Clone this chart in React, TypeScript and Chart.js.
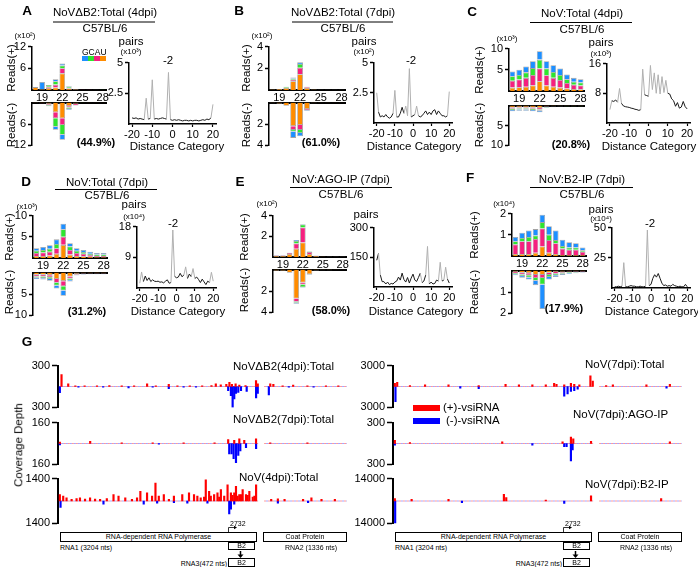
import React, { useEffect, useRef } from 'react';
import { Chart, registerables } from 'chart.js';
Chart.register(...registerables);

const FONT = '"Liberation Sans", Arial, Helvetica, sans-serif';
Chart.defaults.font.family = FONT;
Chart.defaults.color = '#000';

// ---------- DATA ----------
const CATS = ['18', '19', '20', '21', '22', '23', '24', '25', '26', '27', '28'];
const SHOWN = ['19', '22', '25', '28'];
const DIST = [-20, -19, -18, -17, -16, -15, -14, -13, -12, -11, -10, -9, -8, -7, -6, -5, -4, -3, -2, -1, 0, 1, 2, 3, 4, 5, 6, 7, 8, 9, 10, 11, 12, 13, 14, 15, 16, 17, 18, 19, 20];
const DIST_TICKS = [-20, -10, 0, 10, 20];

// Panel A (x10^2)
const aPlusU = [0.8, 0.2, 0.6, 0.7, 4.6, 0.4, 0.2, 0.03, 0.03, 0.02, 0.02];
const aPlusA = [0, 0, 0.3, 0.8, 1.4, 0.2, 0.1, 0.02, 0.02, 0.02, 0.01];
const aPlusC = [0, 0, 0.5, 0.9, 0.8, 0.4, 0, 0.02, 0.02, 0.01, 0.01];
const aPlusG = [0, 2.0, 0, 0.6, 0.5, 0.1, 0, 0.03, 0.03, 0.02, 0.02];
const aMinusU = [0.1, 0.2, 0.4, 2.7, 4.4, 1.0, 0.3, 0.05, 0.03, 0.02, 0.02];
const aMinusA = [0, 0.05, 0.2, 1.7, 1.9, 0.4, 0.5, 0.02, 0.02, 0.01, 0.01];
const aMinusC = [0, 0, 0.3, 2.4, 2.7, 0.4, 0, 0.02, 0.01, 0.01, 0.01];
const aMinusG = [0, 0, 0.1, 0.8, 1.4, 0.2, 0, 0.02, 0.01, 0.01, 0.01];
const lineA = [0.5, 0.45, 0.5, 0.4, 0.45, 0.4, 0.35, 2.1, 0.4, 0.45, 3.6, 0.4, 0.45, 0.4, 0.45, 0.5, 0.45, 0.4, 4.2, 0.35, 0.3, 0.35, 0.3, 0.35, 0.3, 0.25, 0.3, 0.3, 0.25, 0.3, 0.25, 0.3, 0.3, 0.25, 0.3, 0.35, 0.3, 0.4, 0.35, 0.5, 1.6];

// Panel B (x10^2)
const bPlusU = [0.05, 0.1, 0.2, 0.8, 1.45, 0.2, 0.05, 0.02, 0.02, 0.02, 0.02];
const bPlusA = [0, 0, 0, 0.15, 0.6, 0.1, 0, 0, 0, 0, 0];
const bPlusC = [0, 0, 0.1, 0.1, 0.35, 0, 0, 0, 0, 0, 0];
const bPlusG = [0, 0, 0, 0.1, 0.15, 0, 0, 0.01, 0.01, 0.01, 0.01];
const bMinusU = [0.05, 0.1, 0.3, 2.2, 2.1, 0.6, 0.05, 0.02, 0.02, 0.01, 0.01];
const bMinusA = [0, 0, 0, 0.35, 0.45, 0.1, 0, 0, 0, 0, 0];
const bMinusC = [0, 0, 0, 0.15, 0.3, 0, 0, 0, 0, 0, 0];
const bMinusG = [0, 0, 0, 0.6, 0.3, 0.05, 0, 0.01, 0.01, 0.01, 0.01];
const lineB = [2.5, 0.9, 0.5, 0.6, 0.5, 0.7, 0.5, 0.4, 0.5, 0.8, 2.7, 0.5, 0.5, 0.8, 1.3, 0.8, 1.4, 0.6, 4.5, 0.5, 0.6, 0.7, 1.4, 0.6, 0.5, 0.6, 0.8, 1.0, 0.7, 0.9, 0.7, 1.0, 1.1, 0.7, 1.0, 0.8, 0.6, 0.6, 0.5, 0.6, 2.6];

// Panel C (x10^3)
const cPlusU = [0.8, 0.9, 1.0, 1.3, 2.3, 1.3, 1.0, 0.8, 0.6, 0.5, 0.4];
const cPlusA = [1.6, 1.8, 2.1, 2.5, 3.0, 2.4, 2.1, 1.8, 1.3, 1.0, 0.9];
const cPlusC = [1.1, 1.1, 1.3, 1.6, 2.1, 1.6, 1.4, 1.2, 0.9, 0.7, 0.7];
const cPlusG = [1.1, 1.2, 1.4, 1.6, 2.0, 1.7, 1.6, 1.5, 1.1, 0.9, 0.8];
const cMinusU = [0.5, 0.45, 0.45, 0.5, 0.6, 0.2, 0.15, 0.1, 0.07, 0.07, 0.07];
const cMinusA = [0.3, 0.3, 0.3, 0.3, 0.35, 0.15, 0.1, 0.07, 0.05, 0.05, 0.05];
const cMinusC = [0.3, 0.25, 0.25, 0.3, 0.35, 0.1, 0.07, 0.06, 0.04, 0.04, 0.04];
const cMinusG = [0.3, 0.3, 0.3, 0.3, 0.4, 0.15, 0.08, 0.07, 0.04, 0.04, 0.04];
const lineC = [3.6, 6.0, 5.8, 6.2, 5.6, 9.3, 5.3, 4.6, 4.4, 4.3, 4.2, 4.0, 3.9, 3.7, 3.6, 3.4, 3.6, 14.5, 7.6, 7.4, 7.2, 15.5, 9.0, 13.5, 8.0, 13.0, 7.8, 12.5, 8.2, 11.5, 8.0, 7.8, 6.5, 6.0, 4.5, 5.5, 4.0, 4.3, 5.8, 4.4, 3.8];

// Panel D (x10^3)
const dPlusU = [0.5, 0.5, 0.6, 1.0, 3.1, 0.8, 0.5, 0.4, 0.3, 0.2, 0.2];
const dPlusA = [0.7, 0.8, 0.9, 1.3, 1.9, 1.1, 0.7, 0.6, 0.4, 0.3, 0.3];
const dPlusC = [0.5, 0.6, 0.7, 1.0, 1.8, 0.8, 0.5, 0.4, 0.3, 0.3, 0.3];
const dPlusG = [0.6, 0.7, 0.8, 1.1, 1.3, 0.8, 0.6, 0.5, 0.5, 0.4, 0.4];
const dMinusU = [0.5, 0.5, 0.6, 1.5, 2.0, 0.9, 0.3, 0.2, 0.15, 0.15, 0.15];
const dMinusA = [0.4, 0.4, 0.5, 0.9, 1.2, 0.5, 0.2, 0.1, 0.1, 0.1, 0.1];
const dMinusC = [0.3, 0.4, 0.4, 0.6, 1.0, 0.4, 0.1, 0.1, 0.1, 0.1, 0.1];
const dMinusG = [0.3, 0.3, 0.4, 0.7, 1.2, 0.3, 0.1, 0.1, 0.05, 0.05, 0.05];
const lineD = [1.4, 4.7, 1.9, 3.5, 2.2, 3.0, 1.9, 2.4, 2.0, 1.9, 2.0, 1.7, 1.8, 1.5, 2.0, 2.4, 1.4, 1.6, 17.0, 3.4, 3.0, 3.2, 4.3, 3.3, 3.8, 6.2, 2.8, 4.1, 3.3, 5.7, 2.8, 3.2, 2.5, 1.6, 2.6, 1.8, 1.0, 2.0, 1.6, 4.6, 2.0];

// Panel E (x10^2)
const ePlusU = [0.1, 0.1, 0.3, 0.8, 1.4, 0.3, 0.1, 0.03, 0.02, 0.02, 0.02];
const ePlusA = [0.05, 0.05, 0.1, 0.5, 1.45, 0.2, 0.03, 0.01, 0.01, 0.01, 0.01];
const ePlusC = [0, 0, 0, 0.25, 0.3, 0.05, 0, 0, 0, 0, 0];
const ePlusG = [0.05, 0.05, 0, 0.1, 0.05, 0, 0.02, 0.01, 0.01, 0.01, 0.01];
const eMinusU = [0.1, 0.1, 0.3, 2.7, 1.2, 0.45, 0.08, 0.03, 0.03, 0.02, 0.02];
const eMinusA = [0, 0, 0, 0.3, 0.2, 0, 0, 0, 0, 0, 0];
const eMinusC = [0, 0, 0, 0.1, 0.25, 0, 0, 0, 0, 0, 0];
const eMinusG = [0, 0, 0, 0.1, 0.05, 0.05, 0.02, 0.02, 0.02, 0.01, 0.01];
const lineE = [135, 170, 60, 27, 27, 15, 25, 12, 18, 15, 25, 30, 50, 35, 70, 38, 25, 48, 20, 45, 65, 35, 28, 48, 70, 22, 30, 60, 205, 15, 25, 15, 18, 35, 30, 125, 30, 35, 100, 40, 20];

// Panel F (x10^4)
const fPlusU = [0.1, 0.1, 0.1, 0.15, 0.45, 0.15, 0.1, 0.05, 0.05, 0.05, 0.05];
const fPlusA = [0.45, 0.6, 0.6, 0.65, 0.85, 0.6, 0.5, 0.3, 0.25, 0.25, 0.15];
const fPlusC = [0.15, 0.15, 0.2, 0.17, 0.3, 0.25, 0.15, 0.12, 0.1, 0.1, 0.07];
const fPlusG = [0.2, 0.25, 0.3, 0.3, 0.35, 0.4, 0.45, 0.3, 0.25, 0.2, 0.13];
const fMinusU = [0.07, 0.1, 0.12, 0.2, 0.2, 0.1, 0.07, 0.05, 0.04, 0.03, 0.03];
const fMinusA = [0.05, 0.08, 0.1, 0.15, 0.15, 0.1, 0.08, 0.05, 0.04, 0.03, 0.03];
const fMinusC = [0.05, 0.07, 0.1, 0.13, 0.3, 0.1, 0.07, 0.05, 0.03, 0.03, 0.02];
const fMinusG = [0.05, 0.08, 0.1, 0.2, 1.15, 0.12, 0.08, 0.05, 0.04, 0.03, 0.02];
const lineF = [1, 1, 1.5, 1, 1.5, 21, 1, 1, 1.5, 2, 1.5, 1.5, 1, 1, 1.5, 1, 1, 1.5, 48, 2, 3, 8, 11, 9, 12, 8, 4, 2, 2.5, 1.5, 2, 1.5, 3, 2, 1.5, 1, 1.5, 1, 1, 3, 1];

// Panel G coverage tracks: [genome position (nt), depth]
const RNA1_LEN = 3204;
const RNA2_START = 3300;
const RNA2_END = 4636;
const l1Plus: [number, number][] = [[27, 170], [135, 40], [250, 10], [400, 8], [600, 10], [800, 12], [1000, 8], [1200, 10], [1410, 40], [1550, 10], [1760, 30], [1900, 8], [2100, 10], [2300, 8], [2450, 15], [2520, 40], [2600, 25], [2690, 30], [2740, 60], [2780, 30], [2840, 40], [2900, 20], [3000, 15], [3170, 85], [3198, 40], [3400, 40], [3450, 30], [3600, 10], [3770, 20], [4000, 8], [4300, 10], [4500, 8]];
const l1Minus: [number, number][] = [[0, 90], [300, 8], [700, 10], [1110, 20], [1500, 8], [1760, 30], [2000, 8], [2200, 10], [2720, 60], [2764, 130], [2792, 300], [2818, 180], [2846, 100], [2883, 85], [2927, 60], [3019, 70], [3171, 165], [3198, 100], [3377, 120], [3700, 8], [4100, 10]];
const l2Plus: [number, number][] = [[0, 10], [490, 17], [1000, 5], [1500, 6], [2000, 5], [2500, 6], [2720, 30], [2818, 25], [2900, 35], [2980, 25], [3170, 35], [3400, 5], [4000, 5]];
const l2Minus: [number, number][] = [[0, 10], [1600, 5], [2737, 80], [2775, 80], [2808, 117], [2846, 146], [2883, 92], [2916, 56], [3008, 32], [3171, 40]];
const l3Plus: [number, number][] = [[0, 406], [54, 305], [108, 203], [190, 100], [270, 150], [325, 203], [407, 120], [488, 203], [569, 120], [650, 100], [759, 150], [867, 406], [948, 305], [1057, 203], [1165, 100], [1247, 200], [1301, 609], [1409, 508], [1490, 305], [1545, 1117], [1599, 305], [1680, 406], [1762, 100], [1843, 305], [1978, 406], [2087, 508], [2168, 406], [2222, 300], [2276, 203], [2331, 250], [2358, 1320], [2412, 609], [2439, 300], [2493, 406], [2547, 508], [2575, 250], [2602, 711], [2656, 305], [2710, 1015], [2764, 508], [2791, 350], [2818, 508], [2846, 914], [2873, 300], [2900, 406], [2927, 400], [2954, 711], [3008, 406], [3035, 350], [3062, 609], [3117, 250], [3144, 300], [3171, 1015], [3415, 100], [3523, 142], [3631, 100], [3930, 100], [4065, 203], [4228, 100], [4444, 100]];
const l3Minus: [number, number][] = [[11, 406], [705, 203], [1355, 203], [1572, 142], [1843, 100], [2060, 142], [2385, 142], [2737, 812], [2764, 508], [2818, 203], [3523, 142], [4011, 100]];
const r1Plus: [number, number][] = [[0, 465], [38, 605], [244, 140], [488, 233], [867, 233], [1355, 140], [1789, 326], [2005, 233], [2222, 233], [2439, 233], [2574, 465], [2612, 326], [2737, 233], [2845, 465], [2899, 326], [2981, 233], [3160, 1535], [3198, 790], [3414, 140], [3523, 233], [4065, 233], [4444, 326]];
const r1Minus: [number, number][] = [[10, 2185], [1057, 233], [1355, 326], [2737, 1395], [2791, 1070], [2845, 700], [2899, 605], [2954, 372], [4390, 233]];
const r2Plus: [number, number][] = [[0, 45], [244, 14], [1735, 23], [2710, 23], [2845, 91], [2883, 68], [3170, 32], [4444, 23]];
const r2Minus: [number, number][] = [[0, 23], [2222, 23], [2737, 45], [2775, 45], [2845, 250], [2872, 91]];
const r3Plus: [number, number][] = [[0, 1484], [271, 1060], [867, 1060], [1762, 4240], [1800, 2120], [2439, 636], [3170, 3180], [4303, 1484]];
const r3Minus: [number, number][] = [[5, 13780], [1084, 1060], [2737, 1484]];

// ---------- STYLE ----------
const COL = { U: '#ff8c00', A: '#f5207f', C: '#2ee52e', G: '#1e8fff' };
const TS = 11.5; // text size

type Box = { left: number; top: number; width: number; height: number };
type Spec = { box: Box; config: any };

function boxFor(l: number, t: number, r: number, b: number, pl: number, pt: number, pr: number, pb: number): Box {
  return { left: l - pl, top: t - pt, width: r - l + pl + pr, height: b - t + pt + pb };
}

const fmt = (v: number) => String(Math.round(v * 100) / 100);

function yAxis(max: number, width: number, reverse = false) {
  return {
    min: 0,
    max,
    reverse,
    stacked: true,
    afterBuildTicks: (s: any) => { s.ticks = [{ value: max / 2 }, { value: max }]; },
    afterFit: (s: any) => { s.width = width; },
    ticks: { font: { size: 11 }, padding: 2, callback: (v: number) => fmt(v) },
    grid: { drawOnChartArea: false, drawTicks: true, tickLength: 4, tickWidth: 1.5, tickColor: '#000' },
    border: { display: true, color: '#000', width: 1.5 },
  };
}

function barSpec(plot: number[], stacks: number[][], max: number, lower: boolean): Spec {
  const [l, t, r, b] = plot;
  const YW = 24, XH = lower ? 0 : 13, PT = 8, PR = 4, PB = 8;
  const box = boxFor(l, t, r, b, YW, PT, PR, lower ? PB : XH);
  const colors = [COL.U, COL.A, COL.C, COL.G];
  return {
    box,
    config: {
      type: 'bar',
      data: {
        labels: CATS,
        datasets: stacks.map((d, i) => ({
          data: d,
          backgroundColor: colors[i],
          borderColor: '#a3a3a3',
          borderWidth: 0.8,
          barPercentage: 0.84,
          categoryPercentage: 1,
          stack: 's',
        })),
      },
      options: {
        responsive: false,
        animation: false,
        events: [],
        layout: { padding: { top: PT, right: PR, bottom: lower ? PB : 0, left: 0 } },
        plugins: { legend: { display: false }, tooltip: { enabled: false } },
        scales: {
          x: {
            type: 'category',
            position: lower ? 'top' : 'bottom',
            stacked: true,
            offset: true,
            afterFit: (s: any) => { s.height = XH; },
            grid: { display: true, drawOnChartArea: false, drawTicks: false },
            border: { display: true, color: '#000', width: 2 },
            ticks: {
              display: !lower,
              autoSkip: false,
              maxRotation: 0,
              padding: 1,
              font: { size: 11 },
              callback: (_v: any, i: number) => (SHOWN.includes(CATS[i]) ? CATS[i] : ''),
            },
          },
          y: yAxis(max, YW, lower),
        },
      },
    },
  };
}

function lineSpec(plot: number[], vals: number[], max: number): Spec {
  const [l, t, r, b] = plot;
  const YW = 24, XH = 14, PT = 8, PR = 8;
  const box = boxFor(l, t, r, b, YW, PT, PR, XH);
  const y = yAxis(max, YW);
  (y as any).stacked = false;
  return {
    box,
    config: {
      type: 'line',
      data: {
        datasets: [{
          data: DIST.map((d, i) => ({ x: d, y: vals[i] })),
          borderColor: '#1a1a1a',
          borderWidth: 1,
          pointRadius: 0,
          tension: 0,
          segment: {
            borderColor: (c: any) => (Math.abs(c.p1.y - c.p0.y) > 7 ? '#b0b0b0' : '#1a1a1a'),
          },
        }],
      },
      options: {
        responsive: false,
        animation: false,
        events: [],
        layout: { padding: { top: PT, right: PR, bottom: 0, left: 0 } },
        plugins: { legend: { display: false }, tooltip: { enabled: false } },
        scales: {
          x: {
            type: 'linear',
            min: -21.5,
            max: 21.5,
            afterBuildTicks: (s: any) => { s.ticks = DIST_TICKS.map((v) => ({ value: v })); },
            afterFit: (s: any) => { s.height = XH; },
            ticks: { font: { size: 11 }, padding: 1, maxRotation: 0 },
            grid: { drawOnChartArea: false, tickLength: 3, tickWidth: 1.2, tickColor: '#000' },
            border: { display: true, color: '#000', width: 1.5 },
          },
          y,
        },
      },
    },
  };
}

const baselinePlugin = {
  id: 'baseline',
  beforeDatasetsDraw(chart: any, _a: any, opts: any) {
    const { ctx, scales } = chart;
    const xs = scales.x, ys = scales.y;
    const y0 = ys.getPixelForValue(0);
    ctx.save();
    ctx.lineWidth = 1;
    ctx.setLineDash([2, 2]);
    for (const [a, b] of opts.segments as number[][]) {
      ctx.strokeStyle = 'rgba(255,70,70,0.55)';
      ctx.lineDashOffset = 0;
      ctx.beginPath();
      ctx.moveTo(xs.getPixelForValue(a), y0);
      ctx.lineTo(xs.getPixelForValue(b), y0);
      ctx.stroke();
      ctx.strokeStyle = 'rgba(90,90,255,0.55)';
      ctx.lineDashOffset = 2;
      ctx.beginPath();
      ctx.moveTo(xs.getPixelForValue(a), y0);
      ctx.lineTo(xs.getPixelForValue(b), y0);
      ctx.stroke();
    }
    ctx.restore();
  },
};

function trackSpec(plot: number[], plus: [number, number][], minus: [number, number][], max: number): Spec {
  const [l, t, r, b] = plot;
  const YW = 40, PT = 8, PR = 2, PB = 8;
  const box = boxFor(l, t, r, b, YW, PT, PR, PB);
  return {
    box,
    config: {
      type: 'bar',
      data: {
        datasets: [
          { data: plus.map(([x, v]) => ({ x, y: v })), backgroundColor: '#ff0000', barThickness: 1.5, grouped: false },
          { data: minus.map(([x, v]) => ({ x, y: -v })), backgroundColor: '#0000ff', barThickness: 1.5, grouped: false },
        ],
      },
      plugins: [baselinePlugin],
      options: {
        responsive: false,
        animation: false,
        events: [],
        layout: { padding: { top: PT, right: PR, bottom: PB, left: 0 } },
        plugins: {
          legend: { display: false },
          tooltip: { enabled: false },
          baseline: { segments: [[0, RNA1_LEN], [RNA2_START, RNA2_END]] },
        },
        scales: {
          x: { type: 'linear', min: -30, max: 4640, display: false, offset: false },
          y: {
            min: -max,
            max,
            afterBuildTicks: (s: any) => { s.ticks = [{ value: -max }, { value: max }]; },
            afterFit: (s: any) => { s.width = YW; },
            ticks: { font: { size: 11 }, padding: 2, callback: (v: number) => String(Math.abs(v)) },
            grid: { drawOnChartArea: false, drawTicks: true, tickLength: 6, tickWidth: 1.5, tickColor: '#000' },
            border: { display: true, color: '#000', width: 2 },
          },
        },
      },
    },
  };
}

function buildSpecs(): Spec[] {
  return [
    // A
    barSpec([32, 46, 106, 90], [aPlusU, aPlusA, aPlusC, aPlusG], 12, false),
    barSpec([32, 102, 106, 146], [aMinusU, aMinusA, aMinusC, aMinusG], 12, true),
    lineSpec([129, 62, 216, 124], lineA, 5),
    // B
    barSpec([269, 46, 345, 90], [bPlusU, bPlusA, bPlusC, bPlusG], 4, false),
    barSpec([269, 102, 345, 146], [bMinusU, bMinusA, bMinusC, bMinusG], 4, true),
    lineSpec([374, 62, 452, 123], lineB, 5),
    // C
    barSpec([509, 48, 584, 91], [cPlusU, cPlusA, cPlusC, cPlusG], 10, false),
    barSpec([509, 105, 584, 146], [cMinusU, cMinusA, cMinusC, cMinusG], 10, true),
    lineSpec([607, 63, 690, 123], lineC, 16),
    // D
    barSpec([33, 215, 107, 258], [dPlusU, dPlusA, dPlusC, dPlusG], 10, false),
    barSpec([33, 272, 107, 316], [dMinusU, dMinusA, dMinusC, dMinusG], 10, true),
    lineSpec([137, 226, 216, 288], lineD, 18),
    // E
    barSpec([273, 215, 346, 257], [ePlusU, ePlusA, ePlusC, ePlusG], 4, false),
    barSpec([273, 269, 346, 313], [eMinusU, eMinusA, eMinusC, eMinusG], 4, true),
    lineSpec([374, 227, 452, 287], lineE, 300),
    // F
    barSpec([512, 213, 586, 256], [fPlusU, fPlusA, fPlusC, fPlusG], 2, false),
    barSpec([512, 270, 586, 314], [fMinusU, fMinusA, fMinusC, fMinusG], 2, true),
    lineSpec([612, 227, 690, 288], lineF, 50),
    // G tracks
    trackSpec([58, 365, 347, 408], l1Plus, l1Minus, 300),
    trackSpec([58, 422, 347, 465], l2Plus, l2Minus, 160),
    trackSpec([58, 478, 347, 524], l3Plus, l3Minus, 1400),
    trackSpec([393, 365, 682, 408], r1Plus, r1Minus, 3000),
    trackSpec([393, 422, 682, 465], r2Plus, r2Minus, 300),
    trackSpec([393, 478, 682, 524], r3Plus, r3Minus, 14000),
  ];
}

const BOXES = buildSpecs().map((s) => s.box);

// ---------- TEXT ----------
type TP = { x: number; y: number; s?: number; b?: boolean; a?: 'l' | 'c' | 'r'; rot?: boolean; children: any };
function T({ x, y, s = TS, b = false, a = 'c', rot = false, children }: TP) {
  const tx = a === 'l' ? '0' : a === 'r' ? '-100%' : '-50%';
  return (
    <div
      style={{
        position: 'absolute',
        left: x,
        top: y,
        transform: rot ? 'translate(-50%,-50%) rotate(-90deg)' : `translate(${tx},-50%)`,
        fontSize: s,
        fontWeight: b ? 'bold' : 'normal',
        lineHeight: 1,
        whiteSpace: 'nowrap',
      }}
    >
      {children}
    </div>
  );
}

type PanelText = {
  letter: string; lx: number; ly: number;
  title: string; tcx: number; tcy: number; ul: number[]; ccy: number;
  mult: string; mx: number; my: number;
  rpx: number; rpy: number; rmy: number;
  pct: string; px: number; py: number;
  lmult: string | null; pcx: number; pcy: number; lmy: number;
  m2: number[] | null;
  dcx: number; dcy: number;
};

const PANELS: PanelText[] = [
  { letter: 'A', lx: 27, ly: 11, title: 'NoVΔB2:Total (4dpi)', tcx: 105, tcy: 13, ul: [53, 155, 22], ccy: 28.5, mult: '(x10²)', mx: 25, my: 35.5, rpx: 12, rpy: 68, rmy: 125, pct: '(44.9%)', px: 96, py: 142, lmult: '(x10³)', pcx: 131, pcy: 42, lmy: 51.5, m2: [168, 61], dcx: 177, dcy: 147 },
  { letter: 'B', lx: 239, ly: 11, title: 'NoVΔB2:Total (7dpi)', tcx: 343, tcy: 13, ul: [292, 393, 22], ccy: 28.5, mult: '(x10²)', mx: 262, my: 36, rpx: 247, rpy: 68, rmy: 125, pct: '(61.0%)', px: 321, py: 142, lmult: '(x10²)', pcx: 364, pcy: 42, lmy: 51.5, m2: [411, 61], dcx: 414, dcy: 147 },
  { letter: 'C', lx: 472, ly: 12, title: 'NoV:Total (4dpi)', tcx: 582, tcy: 14, ul: [530, 632, 22.5], ccy: 29.5, mult: '(x10³)', mx: 507, my: 38.5, rpx: 480, rpy: 70, rmy: 125, pct: '(20.8%)', px: 571, py: 144, lmult: '(x10³)', pcx: 601, pcy: 43, lmy: 53.5, m2: null, dcx: 649, dcy: 147 },
  { letter: 'D', lx: 26, ly: 182, title: 'NoV:Total (7dpi)', tcx: 107, tcy: 182.5, ul: [55, 157, 189.5], ccy: 196, mult: '(x10³)', mx: 27, my: 207, rpx: 10, rpy: 237, rmy: 292, pct: '(31.2%)', px: 87, py: 311, lmult: '(x10⁴)', pcx: 134, pcy: 205, lmy: 216.5, m2: [173, 224], dcx: 178, dcy: 312 },
  { letter: 'E', lx: 240, ly: 182, title: 'NoV:AGO-IP (7dpi)', tcx: 341, tcy: 180, ul: [290, 392, 187.5], ccy: 195, mult: '(x10²)', mx: 267, my: 203.5, rpx: 245, rpy: 237, rmy: 290, pct: '(58.0%)', px: 331, py: 310, lmult: null, pcx: 366, pcy: 215, lmy: 0, m2: null, dcx: 416, dcy: 312 },
  { letter: 'F', lx: 470, ly: 178, title: 'NoV:B2-IP (7dpi)', tcx: 582, tcy: 180, ul: [530, 633, 187.5], ccy: 195, mult: '(x10⁴)', mx: 504, my: 203.5, rpx: 475, rpy: 235, rmy: 292, pct: '(17.9%)', px: 564, py: 308, lmult: '(x10⁴)', pcx: 601, pcy: 210, lmy: 218.5, m2: [650, 224], dcx: 652, dcy: 312 },
];

const TRACK_LABELS: [string, number, number][] = [
  ['NoVΔB2(4dpi):Total', 233, 367],
  ['NoVΔB2(7dpi):Total', 233, 420],
  ['NoV(4dpi):Total', 239, 478],
  ['NoV(7dpi):Total', 585, 365],
  ['NoV(7dpi):AGO-IP', 573, 415],
  ['NoV(7dpi):B2-IP', 585, 485],
];

function Genome({ dx }: { dx: number }) {
  const box = (l: number, t: number, w: number, h: number, text: string) => (
    <div
      style={{
        position: 'absolute', left: l + dx, top: t, width: w, height: h,
        border: '1px solid #000', boxSizing: 'border-box', fontSize: 7,
        lineHeight: `${h - 2}px`, textAlign: 'center', whiteSpace: 'nowrap', overflow: 'hidden', background: '#fff',
      }}
    >
      {text}
    </div>
  );
  return (
    <>
      {box(60, 532, 197, 10, 'RNA-dependent RNA Polymerase')}
      {box(263, 532, 84, 10, 'Coat Protein')}
      <T x={60 + dx} y={547} s={7} a="l">RNA1 (3204 nts)</T>
      <T x={285 + dx} y={547} s={7} a="l">RNA2 (1336 nts)</T>
      {box(228, 542, 27, 8, 'B2')}
      <T x={230 + dx} y={523} s={7} a="l">2732</T>
      <T x={227 + dx} y={563} s={7} a="r">RNA3(472 nts)</T>
      {box(228, 558, 27, 9, 'B2')}
    </>
  );
}

export default function App() {
  const refs = useRef<(HTMLCanvasElement | null)[]>([]);
  useEffect(() => {
    const specs = buildSpecs();
    const charts = specs.map((s, i) => new Chart(refs.current[i] as HTMLCanvasElement, s.config));
    return () => charts.forEach((c) => c.destroy());
  }, []);

  return (
    <div style={{ position: 'absolute', left: 0, top: 0, width: 698, height: 567, background: '#fff', fontFamily: FONT, color: '#000', overflow: 'hidden' }}>
      {BOXES.map((b, i) => (
        <canvas
          key={i}
          ref={(el) => { refs.current[i] = el; }}
          width={b.width}
          height={b.height}
          style={{ position: 'absolute', left: b.left, top: b.top, width: b.width, height: b.height }}
        />
      ))}

      {PANELS.map((p) => (
        <React.Fragment key={p.letter}>
          <T x={p.lx} y={p.ly} s={13.5} b>{p.letter}</T>
          <T x={p.tcx} y={p.tcy}>{p.title}</T>
          <T x={p.tcx} y={p.ccy}>C57BL/6</T>
          <T x={p.mx} y={p.my} s={8}>{p.mult}</T>
          <T x={p.rpx} y={p.rpy} rot>Reads(+)</T>
          <T x={p.rpx} y={p.rmy} rot>Reads(-)</T>
          <T x={p.px} y={p.py} s={11} b>{p.pct}</T>
          <T x={p.pcx} y={p.pcy}>pairs</T>
          {p.lmult && <T x={p.pcx} y={p.lmy} s={8}>{p.lmult}</T>}
          {p.m2 && <T x={p.m2[0]} y={p.m2[1]}>-2</T>}
          <T x={p.dcx} y={p.dcy}>Distance Category</T>
        </React.Fragment>
      ))}

      {/* GCAU legend */}
      <T x={82} y={51.5} s={8.5} a="l">GCAU</T>

      {/* Panel G */}
      <T x={27} y={342} s={13.5} b>G</T>
      <T x={19} y={445} rot>Coverage Depth</T>
      {TRACK_LABELS.map(([t, x, y]) => (
        <T key={t} x={x} y={y} a="l">{t}</T>
      ))}
      <T x={443} y={408} a="l">(+)-vsiRNA</T>
      <T x={446} y={421} a="l">(-)-vsiRNA</T>
      <Genome dx={0} />
      <Genome dx={335} />

      <svg width={698} height={567} style={{ position: 'absolute', left: 0, top: 0, pointerEvents: 'none' }}>
        {PANELS.map((p) => (
          <line key={p.letter} x1={p.ul[0]} x2={p.ul[1]} y1={p.ul[2]} y2={p.ul[2]} stroke="#000" strokeWidth={1} />
        ))}
        {/* GCAU swatch */}
        <rect x={82} y={56} width={6} height={5} fill={COL.G} />
        <rect x={88} y={56} width={6} height={5} fill={COL.C} />
        <rect x={94} y={56} width={6} height={5} fill={COL.A} />
        <rect x={100} y={56} width={6} height={5} fill={COL.U} />
        {/* vsiRNA legend */}
        <rect x={413} y={405} width={27} height={6} fill="#ff0000" />
        <rect x={413} y={418} width={27} height={6} fill="#0000ff" />
        {[0, 335].map((dx) => (
          <g key={dx}>
            <polyline points={`${228.5 + dx},532 ${228.5 + dx},527.5 ${235 + dx},527.5`} fill="none" stroke="#000" strokeWidth={0.8} />
            <polygon points={`${237 + dx},527.5 ${234 + dx},525.8 ${234 + dx},529.2`} fill="#000" />
            <line x1={240.5 + dx} x2={240.5 + dx} y1={551} y2={555} stroke="#000" strokeWidth={1.5} />
            <polygon points={`${237.5 + dx},554.5 ${243.5 + dx},554.5 ${240.5 + dx},558}`} fill="#000" />
          </g>
        ))}
      </svg>
    </div>
  );
}
